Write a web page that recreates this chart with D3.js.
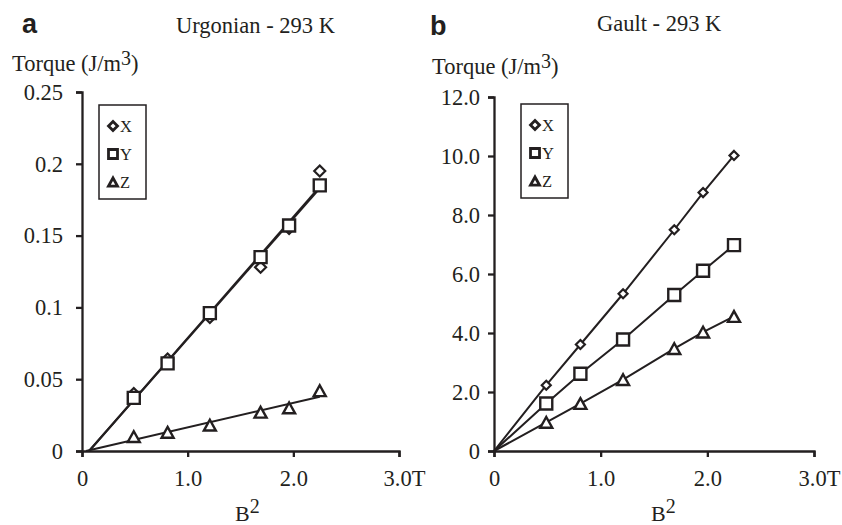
<!DOCTYPE html>
<html>
<head>
<meta charset="utf-8">
<script src="https://cdn.jsdelivr.net/npm/d3@7"></script>
<style>
  html, body { margin: 0; padding: 0; background: #fff; }
  svg { display: block; }
  text { font-family: "Liberation Serif", "Times New Roman", serif; fill: #231f20; }
</style>
</head>
<body>
<svg id="chart" width="842" height="525"></svg>
<script>
// Squared field values (T^2) shared by both samples
const b2 = [0.49, 0.81, 1.21, 1.69, 1.96, 2.25];

// Urgonian limestone, torque per unit volume (J/m^3)
const urgX = [0.040, 0.064, 0.093, 0.128, 0.155, 0.195];
const urgY = [0.037, 0.061, 0.096, 0.135, 0.157, 0.185];
const urgZ = [0.010, 0.013, 0.018, 0.027, 0.030, 0.042];

// Gault clay, torque per unit volume (J/m^3)
const gaultX = [2.23, 3.61, 5.33, 7.50, 8.76, 10.02];
const gaultY = [1.61, 2.62, 3.78, 5.29, 6.11, 6.98];
const gaultZ = [0.97, 1.61, 2.42, 3.47, 4.03, 4.56];

// Axis ticks and labels
const xTicks = [0, 1, 2, 3];
const xTickLabels = ["0", "1.0", "2.0", "3.0T"];
const urgTicks = [0, 0.05, 0.1, 0.15, 0.2, 0.25];
const urgTickLabels = ["0", "0.05", "0.1", "0.15", "0.2", "0.25"];
const gaultTicks = [0, 2, 4, 6, 8, 10, 12];
const gaultTickLabels = ["0", "2.0", "4.0", "6.0", "8.0", "10.0", "12.0"];

const seriesNames = ["X", "Y", "Z"];
const markerKinds = ["diamond", "square", "triangle"];

const INK = "#231f20";
const SERIF = "'Liberation Serif', 'Times New Roman', serif";
const FS = "22.5px";
const svg = d3.select("#chart");

// Hollow marker outlines centred on (0,0)
function markerPath(kind, s) {
  const h = s / 2;
  if (kind === "diamond") return `M0,${-h}L${h},0L0,${h}L${-h},0Z`;
  if (kind === "square") return `M${-h},${-h}H${h}V${h}H${-h}Z`;
  const th = s * 0.9;
  return `M0,${-th / 2}L${h},${th / 2}L${-h},${th / 2}Z`;
}

// Least-squares fit, returned as a segment from the x-intercept to the last x
function fitSegment(xs, ys) {
  const mx = d3.mean(xs), my = d3.mean(ys);
  let sxy = 0, sxx = 0;
  xs.forEach((x, i) => { sxy += (x - mx) * (ys[i] - my); sxx += (x - mx) * (x - mx); });
  const slope = sxy / sxx, icpt = my - slope * mx;
  const x0 = Math.max(0, -icpt / slope), x1 = d3.max(xs);
  return [[x0, slope * x0 + icpt], [x1, slope * x1 + icpt]];
}

const panels = [
  {
    letter: "a", title: "Urgonian - 293 K",
    series: [urgX, urgY, urgZ],
    yMax: 0.25, yTicks: urgTicks, yLabels: urgTickLabels,
    xRange: [82, 399], yRange: [451, 92], yPad: 13,
    letterPos: [22, 33], titlePos: [176, 33],
    torquePos: [12, 71], bPos: [235, 521],
    legend: [99, 105], lines: "fit",
    markerSizes: { diamond: 11, square: 12, triangle: 12 }
  },
  {
    letter: "b", title: "Gault - 293 K",
    series: [gaultX, gaultY, gaultZ],
    yMax: 12, yTicks: gaultTicks, yLabels: gaultTickLabels,
    xRange: [494, 814], yRange: [451, 97], yPad: 8,
    letterPos: [430, 35], titlePos: [597, 31],
    torquePos: [432, 74], bPos: [651, 521],
    legend: [521, 104], lines: "connect",
    markerSizes: { diamond: 9, square: 12, triangle: 12 }
  }
];

panels.forEach(p => {
  const x = d3.scaleLinear().domain([0, 3]).range(p.xRange);
  const y = d3.scaleLinear().domain([0, p.yMax]).range(p.yRange);
  const g = svg.append("g");

  // Panel letter and title
  g.append("text").attr("x", p.letterPos[0]).attr("y", p.letterPos[1])
    .style("font-family", "'Liberation Sans', Arial, sans-serif")
    .style("font-weight", "bold").style("font-size", "27px").text(p.letter);
  g.append("text").attr("x", p.titlePos[0]).attr("y", p.titlePos[1])
    .style("font-size", FS).text(p.title);

  // Y axis title with superscript
  const tq = g.append("text").attr("x", p.torquePos[0]).attr("y", p.torquePos[1])
    .style("font-size", FS);
  tq.append("tspan").text("Torque (J/m");
  tq.append("tspan").attr("dy", -6).style("font-size", "20px").text("3");
  tq.append("tspan").attr("dy", 6).text(")");

  // X axis title with superscript
  const bl = g.append("text").attr("x", p.bPos[0]).attr("y", p.bPos[1])
    .style("font-size", "22px");
  bl.append("tspan").text("B");
  bl.append("tspan").attr("dy", -8).style("font-size", "20px").text("2");

  // Axes
  const xAxis = d3.axisBottom(x).tickValues(xTicks)
    .tickFormat((d, i) => xTickLabels[i]).tickSize(6).tickPadding(13.5);
  const yAxis = d3.axisLeft(y).tickValues(p.yTicks)
    .tickFormat((d, i) => p.yLabels[i]).tickSize(6).tickPadding(p.yPad);

  const gx = g.append("g").attr("transform", `translate(0,${y(0)})`).call(xAxis);
  const gy = g.append("g").attr("transform", `translate(${x(0)},0)`).call(yAxis);
  [gx, gy].forEach(a => {
    a.selectAll("path, line").attr("stroke", INK).attr("stroke-width", 2.3);
    a.selectAll("text").attr("fill", INK)
      .style("font-family", SERIF).style("font-size", FS);
  });
  // last x label carries the unit, shifted so the number sits on its tick
  gx.selectAll(".tick text").filter((d, i) => i === xTicks.length - 1).attr("dx", 5);

  // Lines
  const line = d3.line().x(d => x(d[0])).y(d => y(d[1]));
  p.series.forEach(vals => {
    let pts;
    if (p.lines === "fit") pts = fitSegment(b2, vals);
    else pts = [[0, 0]].concat(b2.map((b, i) => [b, vals[i]]));
    g.append("path").attr("d", line(pts))
      .attr("fill", "none").attr("stroke", INK).attr("stroke-width", 2);
  });

  // Markers (drawn X, then Z, then Y so the squares sit on top)
  [0, 2, 1].forEach(si => {
    const kind = markerKinds[si];
    g.append("g").selectAll("path")
      .data(b2.map((b, i) => [b, p.series[si][i]]))
      .join("path")
      .attr("transform", d => `translate(${x(d[0])},${y(d[1])})`)
      .attr("d", markerPath(kind, p.markerSizes[kind]))
      .attr("fill", "#fff").attr("stroke", INK)
      .attr("stroke-width", kind === "diamond" ? 2.2 : 2.4)
      .attr("stroke-linejoin", "miter");
  });

  // Legend
  const lg = g.append("g").attr("transform", `translate(${p.legend[0]},${p.legend[1]})`);
  lg.append("rect").attr("x", 0).attr("y", 0).attr("width", 47).attr("height", 94)
    .attr("fill", "#fff").attr("stroke", INK).attr("stroke-width", 1.5);
  seriesNames.forEach((name, i) => {
    const cy = 21 + i * 28;
    lg.append("path").attr("transform", `translate(14,${cy})`)
      .attr("d", markerPath(markerKinds[i], 9))
      .attr("fill", "#fff").attr("stroke", INK).attr("stroke-width", 2.8);
    lg.append("text").attr("x", 21).attr("y", cy + 6)
      .style("font-size", "16.5px").text(name);
  });
});
</script>
</body>
</html>
